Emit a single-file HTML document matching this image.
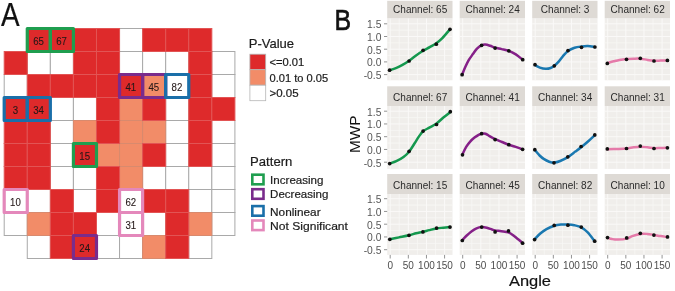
<!DOCTYPE html>
<html><head><meta charset="utf-8"><title>Figure</title>
<style>
html,body{margin:0;padding:0;background:#fff;width:675px;height:291px;overflow:hidden;}
svg{display:block;font-family:"Liberation Sans", sans-serif;filter:blur(0.35px);}
</style></head>
<body>
<svg width="675" height="291" viewBox="0 0 675 291">
<g><rect x="119.55" y="28.50" width="23.07" height="23.00" fill="#ffffff" stroke="#a9a9a9" stroke-width="1"/><rect x="27.27" y="51.50" width="23.07" height="23.00" fill="#ffffff" stroke="#a9a9a9" stroke-width="1"/><rect x="50.34" y="51.50" width="23.07" height="23.00" fill="#ffffff" stroke="#a9a9a9" stroke-width="1"/><rect x="119.55" y="51.50" width="23.07" height="23.00" fill="#ffffff" stroke="#a9a9a9" stroke-width="1"/><rect x="142.62" y="51.50" width="23.07" height="23.00" fill="#ffffff" stroke="#a9a9a9" stroke-width="1"/><rect x="165.69" y="51.50" width="23.07" height="23.00" fill="#ffffff" stroke="#a9a9a9" stroke-width="1"/><rect x="211.83" y="51.50" width="23.07" height="23.00" fill="#ffffff" stroke="#a9a9a9" stroke-width="1"/><rect x="4.20" y="74.50" width="23.07" height="23.00" fill="#ffffff" stroke="#a9a9a9" stroke-width="1"/><rect x="165.69" y="74.50" width="23.07" height="23.00" fill="#ffffff" stroke="#a9a9a9" stroke-width="1"/><rect x="211.83" y="74.50" width="23.07" height="23.00" fill="#ffffff" stroke="#a9a9a9" stroke-width="1"/><rect x="50.34" y="97.50" width="23.07" height="23.00" fill="#ffffff" stroke="#a9a9a9" stroke-width="1"/><rect x="73.41" y="97.50" width="23.07" height="23.00" fill="#ffffff" stroke="#a9a9a9" stroke-width="1"/><rect x="165.69" y="97.50" width="23.07" height="23.00" fill="#ffffff" stroke="#a9a9a9" stroke-width="1"/><rect x="50.34" y="120.50" width="23.07" height="23.00" fill="#ffffff" stroke="#a9a9a9" stroke-width="1"/><rect x="165.69" y="120.50" width="23.07" height="23.00" fill="#ffffff" stroke="#a9a9a9" stroke-width="1"/><rect x="211.83" y="120.50" width="23.07" height="23.00" fill="#ffffff" stroke="#a9a9a9" stroke-width="1"/><rect x="50.34" y="143.50" width="23.07" height="23.00" fill="#ffffff" stroke="#a9a9a9" stroke-width="1"/><rect x="165.69" y="143.50" width="23.07" height="23.00" fill="#ffffff" stroke="#a9a9a9" stroke-width="1"/><rect x="211.83" y="143.50" width="23.07" height="23.00" fill="#ffffff" stroke="#a9a9a9" stroke-width="1"/><rect x="50.34" y="166.50" width="23.07" height="23.00" fill="#ffffff" stroke="#a9a9a9" stroke-width="1"/><rect x="73.41" y="166.50" width="23.07" height="23.00" fill="#ffffff" stroke="#a9a9a9" stroke-width="1"/><rect x="142.62" y="166.50" width="23.07" height="23.00" fill="#ffffff" stroke="#a9a9a9" stroke-width="1"/><rect x="165.69" y="166.50" width="23.07" height="23.00" fill="#ffffff" stroke="#a9a9a9" stroke-width="1"/><rect x="188.76" y="166.50" width="23.07" height="23.00" fill="#ffffff" stroke="#a9a9a9" stroke-width="1"/><rect x="211.83" y="166.50" width="23.07" height="23.00" fill="#ffffff" stroke="#a9a9a9" stroke-width="1"/><rect x="4.20" y="189.50" width="23.07" height="23.00" fill="#ffffff" stroke="#a9a9a9" stroke-width="1"/><rect x="27.27" y="189.50" width="23.07" height="23.00" fill="#ffffff" stroke="#a9a9a9" stroke-width="1"/><rect x="73.41" y="189.50" width="23.07" height="23.00" fill="#ffffff" stroke="#a9a9a9" stroke-width="1"/><rect x="119.55" y="189.50" width="23.07" height="23.00" fill="#ffffff" stroke="#a9a9a9" stroke-width="1"/><rect x="188.76" y="189.50" width="23.07" height="23.00" fill="#ffffff" stroke="#a9a9a9" stroke-width="1"/><rect x="211.83" y="189.50" width="23.07" height="23.00" fill="#ffffff" stroke="#a9a9a9" stroke-width="1"/><rect x="4.20" y="212.50" width="23.07" height="23.00" fill="#ffffff" stroke="#a9a9a9" stroke-width="1"/><rect x="96.48" y="212.50" width="23.07" height="23.00" fill="#ffffff" stroke="#a9a9a9" stroke-width="1"/><rect x="119.55" y="212.50" width="23.07" height="23.00" fill="#ffffff" stroke="#a9a9a9" stroke-width="1"/><rect x="142.62" y="212.50" width="23.07" height="23.00" fill="#ffffff" stroke="#a9a9a9" stroke-width="1"/><rect x="211.83" y="212.50" width="23.07" height="23.00" fill="#ffffff" stroke="#a9a9a9" stroke-width="1"/><rect x="27.27" y="235.50" width="23.07" height="23.00" fill="#ffffff" stroke="#a9a9a9" stroke-width="1"/><rect x="96.48" y="235.50" width="23.07" height="23.00" fill="#ffffff" stroke="#a9a9a9" stroke-width="1"/><rect x="119.55" y="235.50" width="23.07" height="23.00" fill="#ffffff" stroke="#a9a9a9" stroke-width="1"/><rect x="188.76" y="235.50" width="23.07" height="23.00" fill="#ffffff" stroke="#a9a9a9" stroke-width="1"/><rect x="142.62" y="74.50" width="23.07" height="23.00" fill="#f28c68" stroke="#d88a6e" stroke-width="1"/><rect x="119.55" y="97.50" width="23.07" height="23.00" fill="#f28c68" stroke="#d88a6e" stroke-width="1"/><rect x="73.41" y="120.50" width="23.07" height="23.00" fill="#f28c68" stroke="#d88a6e" stroke-width="1"/><rect x="119.55" y="120.50" width="23.07" height="23.00" fill="#f28c68" stroke="#d88a6e" stroke-width="1"/><rect x="142.62" y="120.50" width="23.07" height="23.00" fill="#f28c68" stroke="#d88a6e" stroke-width="1"/><rect x="96.48" y="143.50" width="23.07" height="23.00" fill="#f28c68" stroke="#d88a6e" stroke-width="1"/><rect x="119.55" y="143.50" width="23.07" height="23.00" fill="#f28c68" stroke="#d88a6e" stroke-width="1"/><rect x="119.55" y="166.50" width="23.07" height="23.00" fill="#f28c68" stroke="#d88a6e" stroke-width="1"/><rect x="27.27" y="212.50" width="23.07" height="23.00" fill="#f28c68" stroke="#d88a6e" stroke-width="1"/><rect x="188.76" y="212.50" width="23.07" height="23.00" fill="#f28c68" stroke="#d88a6e" stroke-width="1"/><rect x="142.62" y="235.50" width="23.07" height="23.00" fill="#f28c68" stroke="#d88a6e" stroke-width="1"/><rect x="27.27" y="28.50" width="23.07" height="23.00" fill="#de2a2b" stroke="#e25454" stroke-width="1"/><rect x="50.34" y="28.50" width="23.07" height="23.00" fill="#de2a2b" stroke="#e25454" stroke-width="1"/><rect x="73.41" y="28.50" width="23.07" height="23.00" fill="#de2a2b" stroke="#e25454" stroke-width="1"/><rect x="96.48" y="28.50" width="23.07" height="23.00" fill="#de2a2b" stroke="#e25454" stroke-width="1"/><rect x="142.62" y="28.50" width="23.07" height="23.00" fill="#de2a2b" stroke="#e25454" stroke-width="1"/><rect x="165.69" y="28.50" width="23.07" height="23.00" fill="#de2a2b" stroke="#e25454" stroke-width="1"/><rect x="188.76" y="28.50" width="23.07" height="23.00" fill="#de2a2b" stroke="#e25454" stroke-width="1"/><rect x="4.20" y="51.50" width="23.07" height="23.00" fill="#de2a2b" stroke="#e25454" stroke-width="1"/><rect x="73.41" y="51.50" width="23.07" height="23.00" fill="#de2a2b" stroke="#e25454" stroke-width="1"/><rect x="96.48" y="51.50" width="23.07" height="23.00" fill="#de2a2b" stroke="#e25454" stroke-width="1"/><rect x="188.76" y="51.50" width="23.07" height="23.00" fill="#de2a2b" stroke="#e25454" stroke-width="1"/><rect x="27.27" y="74.50" width="23.07" height="23.00" fill="#de2a2b" stroke="#e25454" stroke-width="1"/><rect x="50.34" y="74.50" width="23.07" height="23.00" fill="#de2a2b" stroke="#e25454" stroke-width="1"/><rect x="73.41" y="74.50" width="23.07" height="23.00" fill="#de2a2b" stroke="#e25454" stroke-width="1"/><rect x="96.48" y="74.50" width="23.07" height="23.00" fill="#de2a2b" stroke="#e25454" stroke-width="1"/><rect x="119.55" y="74.50" width="23.07" height="23.00" fill="#de2a2b" stroke="#e25454" stroke-width="1"/><rect x="188.76" y="74.50" width="23.07" height="23.00" fill="#de2a2b" stroke="#e25454" stroke-width="1"/><rect x="4.20" y="97.50" width="23.07" height="23.00" fill="#de2a2b" stroke="#e25454" stroke-width="1"/><rect x="27.27" y="97.50" width="23.07" height="23.00" fill="#de2a2b" stroke="#e25454" stroke-width="1"/><rect x="96.48" y="97.50" width="23.07" height="23.00" fill="#de2a2b" stroke="#e25454" stroke-width="1"/><rect x="142.62" y="97.50" width="23.07" height="23.00" fill="#de2a2b" stroke="#e25454" stroke-width="1"/><rect x="188.76" y="97.50" width="23.07" height="23.00" fill="#de2a2b" stroke="#e25454" stroke-width="1"/><rect x="211.83" y="97.50" width="23.07" height="23.00" fill="#de2a2b" stroke="#e25454" stroke-width="1"/><rect x="4.20" y="120.50" width="23.07" height="23.00" fill="#de2a2b" stroke="#e25454" stroke-width="1"/><rect x="27.27" y="120.50" width="23.07" height="23.00" fill="#de2a2b" stroke="#e25454" stroke-width="1"/><rect x="96.48" y="120.50" width="23.07" height="23.00" fill="#de2a2b" stroke="#e25454" stroke-width="1"/><rect x="188.76" y="120.50" width="23.07" height="23.00" fill="#de2a2b" stroke="#e25454" stroke-width="1"/><rect x="4.20" y="143.50" width="23.07" height="23.00" fill="#de2a2b" stroke="#e25454" stroke-width="1"/><rect x="27.27" y="143.50" width="23.07" height="23.00" fill="#de2a2b" stroke="#e25454" stroke-width="1"/><rect x="73.41" y="143.50" width="23.07" height="23.00" fill="#de2a2b" stroke="#e25454" stroke-width="1"/><rect x="142.62" y="143.50" width="23.07" height="23.00" fill="#de2a2b" stroke="#e25454" stroke-width="1"/><rect x="188.76" y="143.50" width="23.07" height="23.00" fill="#de2a2b" stroke="#e25454" stroke-width="1"/><rect x="4.20" y="166.50" width="23.07" height="23.00" fill="#de2a2b" stroke="#e25454" stroke-width="1"/><rect x="27.27" y="166.50" width="23.07" height="23.00" fill="#de2a2b" stroke="#e25454" stroke-width="1"/><rect x="96.48" y="166.50" width="23.07" height="23.00" fill="#de2a2b" stroke="#e25454" stroke-width="1"/><rect x="50.34" y="189.50" width="23.07" height="23.00" fill="#de2a2b" stroke="#e25454" stroke-width="1"/><rect x="96.48" y="189.50" width="23.07" height="23.00" fill="#de2a2b" stroke="#e25454" stroke-width="1"/><rect x="142.62" y="189.50" width="23.07" height="23.00" fill="#de2a2b" stroke="#e25454" stroke-width="1"/><rect x="165.69" y="189.50" width="23.07" height="23.00" fill="#de2a2b" stroke="#e25454" stroke-width="1"/><rect x="50.34" y="212.50" width="23.07" height="23.00" fill="#de2a2b" stroke="#e25454" stroke-width="1"/><rect x="73.41" y="212.50" width="23.07" height="23.00" fill="#de2a2b" stroke="#e25454" stroke-width="1"/><rect x="165.69" y="212.50" width="23.07" height="23.00" fill="#de2a2b" stroke="#e25454" stroke-width="1"/><rect x="50.34" y="235.50" width="23.07" height="23.00" fill="#de2a2b" stroke="#e25454" stroke-width="1"/><rect x="73.41" y="235.50" width="23.07" height="23.00" fill="#de2a2b" stroke="#e25454" stroke-width="1"/><rect x="165.69" y="235.50" width="23.07" height="23.00" fill="#de2a2b" stroke="#e25454" stroke-width="1"/></g>
<g><rect x="27.27" y="28.50" width="23.07" height="23.00" fill="none" stroke="#1f9e4f" stroke-width="3.2" stroke-linejoin="round"/><rect x="50.34" y="28.50" width="23.07" height="23.00" fill="none" stroke="#1f9e4f" stroke-width="3.2" stroke-linejoin="round"/><rect x="119.55" y="74.50" width="23.07" height="23.00" fill="none" stroke="#7a2c8c" stroke-width="3.2" stroke-linejoin="round"/><rect x="142.62" y="74.50" width="23.07" height="23.00" fill="none" stroke="#7a2c8c" stroke-width="3.2" stroke-linejoin="round"/><rect x="165.69" y="74.50" width="23.07" height="23.00" fill="none" stroke="#1a6fa9" stroke-width="3.2" stroke-linejoin="round"/><rect x="4.20" y="97.50" width="23.07" height="23.00" fill="none" stroke="#1a6fa9" stroke-width="3.2" stroke-linejoin="round"/><rect x="27.27" y="97.50" width="23.07" height="23.00" fill="none" stroke="#1a6fa9" stroke-width="3.2" stroke-linejoin="round"/><rect x="73.41" y="143.50" width="23.07" height="23.00" fill="none" stroke="#1f9e4f" stroke-width="3.2" stroke-linejoin="round"/><rect x="4.20" y="189.50" width="23.07" height="23.00" fill="none" stroke="#e488bb" stroke-width="3.2" stroke-linejoin="round"/><rect x="119.55" y="189.50" width="23.07" height="23.00" fill="none" stroke="#e488bb" stroke-width="3.2" stroke-linejoin="round"/><rect x="119.55" y="212.50" width="23.07" height="23.00" fill="none" stroke="#e488bb" stroke-width="3.2" stroke-linejoin="round"/><rect x="73.41" y="235.50" width="23.07" height="23.00" fill="none" stroke="#7a2c8c" stroke-width="3.2" stroke-linejoin="round"/></g>
<g><text transform="translate(38.51 44.80) scale(0.92 1)" text-anchor="middle" font-size="10.5" fill="#241818" stroke="#241818" stroke-width="0.1">65</text><text transform="translate(61.58 44.80) scale(0.92 1)" text-anchor="middle" font-size="10.5" fill="#241818" stroke="#241818" stroke-width="0.1">67</text><text transform="translate(130.78 90.80) scale(0.92 1)" text-anchor="middle" font-size="10.5" fill="#241818" stroke="#241818" stroke-width="0.1">41</text><text transform="translate(153.85 90.80) scale(0.92 1)" text-anchor="middle" font-size="10.5" fill="#241818" stroke="#241818" stroke-width="0.1">45</text><text transform="translate(176.92 90.80) scale(0.92 1)" text-anchor="middle" font-size="10.5" fill="#241818" stroke="#241818" stroke-width="0.1">82</text><text transform="translate(15.43 113.80) scale(0.92 1)" text-anchor="middle" font-size="10.5" fill="#241818" stroke="#241818" stroke-width="0.1">3</text><text transform="translate(38.51 113.80) scale(0.92 1)" text-anchor="middle" font-size="10.5" fill="#241818" stroke="#241818" stroke-width="0.1">34</text><text transform="translate(84.65 159.80) scale(0.92 1)" text-anchor="middle" font-size="10.5" fill="#241818" stroke="#241818" stroke-width="0.1">15</text><text transform="translate(15.43 205.80) scale(0.92 1)" text-anchor="middle" font-size="10.5" fill="#241818" stroke="#241818" stroke-width="0.1">10</text><text transform="translate(130.78 205.80) scale(0.92 1)" text-anchor="middle" font-size="10.5" fill="#241818" stroke="#241818" stroke-width="0.1">62</text><text transform="translate(130.78 228.80) scale(0.92 1)" text-anchor="middle" font-size="10.5" fill="#241818" stroke="#241818" stroke-width="0.1">31</text><text transform="translate(84.65 251.80) scale(0.92 1)" text-anchor="middle" font-size="10.5" fill="#241818" stroke="#241818" stroke-width="0.1">24</text></g>
<text transform="translate(1.0 25.6) scale(0.86 1)" font-size="32.46" fill="#111" stroke="#1c1c1c" stroke-width="0.2">A</text>
<text transform="translate(248.7 48.4) scale(1.02 1)" font-size="12.8" fill="#1c1c1c" stroke="#1c1c1c" stroke-width="0.2">P-Value</text>
<rect x="249.9" y="54.2" width="15.8" height="15.5" fill="#de2a2b" stroke="#b5b5b5" stroke-width="0.8"/>
<rect x="249.9" y="69.7" width="15.8" height="15.5" fill="#f28c68" stroke="#b5b5b5" stroke-width="0.8"/>
<rect x="249.9" y="85.2" width="15.8" height="15.5" fill="#ffffff" stroke="#b5b5b5" stroke-width="0.8"/>
<text transform="translate(269.5 66.1) scale(1.074 1)" font-size="10.4" fill="#1c1c1c" stroke="#1c1c1c" stroke-width="0.2">&lt;=0.01</text>
<text transform="translate(269.5 81.8) scale(1.09 1)" font-size="10.2" fill="#1c1c1c" stroke="#1c1c1c" stroke-width="0.2">0.01 to 0.05</text>
<text transform="translate(269.5 96.9) scale(1.107 1)" font-size="10.4" fill="#1c1c1c" stroke="#1c1c1c" stroke-width="0.2">&gt;0.05</text>
<text transform="translate(250.1 166) scale(1.04 1)" font-size="12.6" fill="#1c1c1c" stroke="#1c1c1c" stroke-width="0.2">Pattern</text>
<rect x="252.3" y="174.7" width="11.2" height="9.6" fill="#fff" stroke="#1f9e4f" stroke-width="2.6"/>
<text transform="translate(270.1 184.2) scale(1.03 1)" font-size="11.25" fill="#1c1c1c" stroke="#1c1c1c" stroke-width="0.2">Increasing</text>
<rect x="252.3" y="189.2" width="11.2" height="9.6" fill="#fff" stroke="#7a2c8c" stroke-width="2.6"/>
<text transform="translate(270.1 198.2) scale(1.024 1)" font-size="11.25" fill="#1c1c1c" stroke="#1c1c1c" stroke-width="0.2">Decreasing</text>
<rect x="252.3" y="206.1" width="11.2" height="9.6" fill="#fff" stroke="#1a6fa9" stroke-width="2.6"/>
<text transform="translate(270.1 216.3) scale(1.05 1)" font-size="11.25" fill="#1c1c1c" stroke="#1c1c1c" stroke-width="0.2">Nonlinear</text>
<rect x="252.3" y="220.5" width="11.2" height="9.6" fill="#fff" stroke="#e488bb" stroke-width="2.6"/>
<text transform="translate(270.1 230.0) scale(1.075 1)" font-size="11.25" fill="#1c1c1c" stroke="#1c1c1c" stroke-width="0.2">Not Significant</text>
<text transform="translate(334.6 30.1) scale(0.82 1)" font-size="30.4" fill="#111" stroke="#111" stroke-width="0.7">B</text>
<rect x="387.2" y="0.8" width="65.3" height="17.70" fill="#dedad5"/>
<text transform="translate(420.15 13.40) scale(1.005 1)" text-anchor="middle" font-size="10.0" fill="#2a2a2a">Channel: 65</text>
<rect x="387.2" y="18.5" width="65.3" height="61.80" fill="#f0eeeb"/>
<line x1="387.2" x2="452.5" y1="68.25" y2="68.25" stroke="#f8f7f5" stroke-width="0.8"/><line x1="387.2" x2="452.5" y1="55.55" y2="55.55" stroke="#f8f7f5" stroke-width="0.8"/><line x1="387.2" x2="452.5" y1="42.85" y2="42.85" stroke="#f8f7f5" stroke-width="0.8"/><line x1="387.2" x2="452.5" y1="30.15" y2="30.15" stroke="#f8f7f5" stroke-width="0.8"/><line x1="399.26" x2="399.26" y1="18.5" y2="80.3" stroke="#f8f7f5" stroke-width="0.8"/><line x1="417.39" x2="417.39" y1="18.5" y2="80.3" stroke="#f8f7f5" stroke-width="0.8"/><line x1="435.52" x2="435.52" y1="18.5" y2="80.3" stroke="#f8f7f5" stroke-width="0.8"/><line x1="387.2" x2="452.5" y1="74.60" y2="74.60" stroke="#faf9f8" stroke-width="1"/><line x1="387.2" x2="452.5" y1="61.90" y2="61.90" stroke="#faf9f8" stroke-width="1"/><line x1="387.2" x2="452.5" y1="49.20" y2="49.20" stroke="#faf9f8" stroke-width="1"/><line x1="387.2" x2="452.5" y1="36.50" y2="36.50" stroke="#faf9f8" stroke-width="1"/><line x1="387.2" x2="452.5" y1="23.80" y2="23.80" stroke="#faf9f8" stroke-width="1"/><line x1="390.20" x2="390.20" y1="18.5" y2="80.3" stroke="#faf9f8" stroke-width="1"/><line x1="408.33" x2="408.33" y1="18.5" y2="80.3" stroke="#faf9f8" stroke-width="1"/><line x1="426.46" x2="426.46" y1="18.5" y2="80.3" stroke="#faf9f8" stroke-width="1"/><line x1="444.59" x2="444.59" y1="18.5" y2="80.3" stroke="#faf9f8" stroke-width="1"/>
<rect x="459.7" y="0.8" width="65.3" height="17.70" fill="#dedad5"/>
<text transform="translate(492.65 13.40) scale(1.005 1)" text-anchor="middle" font-size="10.0" fill="#2a2a2a">Channel: 24</text>
<rect x="459.7" y="18.5" width="65.3" height="61.80" fill="#f0eeeb"/>
<line x1="459.7" x2="525.0" y1="68.25" y2="68.25" stroke="#f8f7f5" stroke-width="0.8"/><line x1="459.7" x2="525.0" y1="55.55" y2="55.55" stroke="#f8f7f5" stroke-width="0.8"/><line x1="459.7" x2="525.0" y1="42.85" y2="42.85" stroke="#f8f7f5" stroke-width="0.8"/><line x1="459.7" x2="525.0" y1="30.15" y2="30.15" stroke="#f8f7f5" stroke-width="0.8"/><line x1="471.76" x2="471.76" y1="18.5" y2="80.3" stroke="#f8f7f5" stroke-width="0.8"/><line x1="489.89" x2="489.89" y1="18.5" y2="80.3" stroke="#f8f7f5" stroke-width="0.8"/><line x1="508.02" x2="508.02" y1="18.5" y2="80.3" stroke="#f8f7f5" stroke-width="0.8"/><line x1="459.7" x2="525.0" y1="74.60" y2="74.60" stroke="#faf9f8" stroke-width="1"/><line x1="459.7" x2="525.0" y1="61.90" y2="61.90" stroke="#faf9f8" stroke-width="1"/><line x1="459.7" x2="525.0" y1="49.20" y2="49.20" stroke="#faf9f8" stroke-width="1"/><line x1="459.7" x2="525.0" y1="36.50" y2="36.50" stroke="#faf9f8" stroke-width="1"/><line x1="459.7" x2="525.0" y1="23.80" y2="23.80" stroke="#faf9f8" stroke-width="1"/><line x1="462.70" x2="462.70" y1="18.5" y2="80.3" stroke="#faf9f8" stroke-width="1"/><line x1="480.83" x2="480.83" y1="18.5" y2="80.3" stroke="#faf9f8" stroke-width="1"/><line x1="498.96" x2="498.96" y1="18.5" y2="80.3" stroke="#faf9f8" stroke-width="1"/><line x1="517.09" x2="517.09" y1="18.5" y2="80.3" stroke="#faf9f8" stroke-width="1"/>
<rect x="532.2" y="0.8" width="65.3" height="17.70" fill="#dedad5"/>
<text transform="translate(565.15 13.40) scale(1.005 1)" text-anchor="middle" font-size="10.0" fill="#2a2a2a">Channel: 3</text>
<rect x="532.2" y="18.5" width="65.3" height="61.80" fill="#f0eeeb"/>
<line x1="532.2" x2="597.5" y1="68.25" y2="68.25" stroke="#f8f7f5" stroke-width="0.8"/><line x1="532.2" x2="597.5" y1="55.55" y2="55.55" stroke="#f8f7f5" stroke-width="0.8"/><line x1="532.2" x2="597.5" y1="42.85" y2="42.85" stroke="#f8f7f5" stroke-width="0.8"/><line x1="532.2" x2="597.5" y1="30.15" y2="30.15" stroke="#f8f7f5" stroke-width="0.8"/><line x1="544.27" x2="544.27" y1="18.5" y2="80.3" stroke="#f8f7f5" stroke-width="0.8"/><line x1="562.40" x2="562.40" y1="18.5" y2="80.3" stroke="#f8f7f5" stroke-width="0.8"/><line x1="580.53" x2="580.53" y1="18.5" y2="80.3" stroke="#f8f7f5" stroke-width="0.8"/><line x1="532.2" x2="597.5" y1="74.60" y2="74.60" stroke="#faf9f8" stroke-width="1"/><line x1="532.2" x2="597.5" y1="61.90" y2="61.90" stroke="#faf9f8" stroke-width="1"/><line x1="532.2" x2="597.5" y1="49.20" y2="49.20" stroke="#faf9f8" stroke-width="1"/><line x1="532.2" x2="597.5" y1="36.50" y2="36.50" stroke="#faf9f8" stroke-width="1"/><line x1="532.2" x2="597.5" y1="23.80" y2="23.80" stroke="#faf9f8" stroke-width="1"/><line x1="535.20" x2="535.20" y1="18.5" y2="80.3" stroke="#faf9f8" stroke-width="1"/><line x1="553.33" x2="553.33" y1="18.5" y2="80.3" stroke="#faf9f8" stroke-width="1"/><line x1="571.46" x2="571.46" y1="18.5" y2="80.3" stroke="#faf9f8" stroke-width="1"/><line x1="589.59" x2="589.59" y1="18.5" y2="80.3" stroke="#faf9f8" stroke-width="1"/>
<rect x="604.7" y="0.8" width="65.3" height="17.70" fill="#dedad5"/>
<text transform="translate(637.65 13.40) scale(1.005 1)" text-anchor="middle" font-size="10.0" fill="#2a2a2a">Channel: 62</text>
<rect x="604.7" y="18.5" width="65.3" height="61.80" fill="#f0eeeb"/>
<line x1="604.7" x2="670.0" y1="68.25" y2="68.25" stroke="#f8f7f5" stroke-width="0.8"/><line x1="604.7" x2="670.0" y1="55.55" y2="55.55" stroke="#f8f7f5" stroke-width="0.8"/><line x1="604.7" x2="670.0" y1="42.85" y2="42.85" stroke="#f8f7f5" stroke-width="0.8"/><line x1="604.7" x2="670.0" y1="30.15" y2="30.15" stroke="#f8f7f5" stroke-width="0.8"/><line x1="616.77" x2="616.77" y1="18.5" y2="80.3" stroke="#f8f7f5" stroke-width="0.8"/><line x1="634.90" x2="634.90" y1="18.5" y2="80.3" stroke="#f8f7f5" stroke-width="0.8"/><line x1="653.03" x2="653.03" y1="18.5" y2="80.3" stroke="#f8f7f5" stroke-width="0.8"/><line x1="604.7" x2="670.0" y1="74.60" y2="74.60" stroke="#faf9f8" stroke-width="1"/><line x1="604.7" x2="670.0" y1="61.90" y2="61.90" stroke="#faf9f8" stroke-width="1"/><line x1="604.7" x2="670.0" y1="49.20" y2="49.20" stroke="#faf9f8" stroke-width="1"/><line x1="604.7" x2="670.0" y1="36.50" y2="36.50" stroke="#faf9f8" stroke-width="1"/><line x1="604.7" x2="670.0" y1="23.80" y2="23.80" stroke="#faf9f8" stroke-width="1"/><line x1="607.70" x2="607.70" y1="18.5" y2="80.3" stroke="#faf9f8" stroke-width="1"/><line x1="625.83" x2="625.83" y1="18.5" y2="80.3" stroke="#faf9f8" stroke-width="1"/><line x1="643.96" x2="643.96" y1="18.5" y2="80.3" stroke="#faf9f8" stroke-width="1"/><line x1="662.09" x2="662.09" y1="18.5" y2="80.3" stroke="#faf9f8" stroke-width="1"/>
<text x="381.4" y="28.10" text-anchor="end" font-size="10.3" fill="#555">1.5</text>
<line x1="384.0" x2="387.2" y1="23.80" y2="23.80" stroke="#888" stroke-width="0.9"/>
<text x="381.4" y="40.80" text-anchor="end" font-size="10.3" fill="#555">1.0</text>
<line x1="384.0" x2="387.2" y1="36.50" y2="36.50" stroke="#888" stroke-width="0.9"/>
<text x="381.4" y="53.50" text-anchor="end" font-size="10.3" fill="#555">0.5</text>
<line x1="384.0" x2="387.2" y1="49.20" y2="49.20" stroke="#888" stroke-width="0.9"/>
<text x="381.4" y="66.20" text-anchor="end" font-size="10.3" fill="#555">0.0</text>
<line x1="384.0" x2="387.2" y1="61.90" y2="61.90" stroke="#888" stroke-width="0.9"/>
<text x="381.4" y="78.90" text-anchor="end" font-size="10.3" fill="#555">-0.5</text>
<line x1="384.0" x2="387.2" y1="74.60" y2="74.60" stroke="#888" stroke-width="0.9"/>
<rect x="387.2" y="86.3" width="65.3" height="19.70" fill="#dedad5"/>
<text transform="translate(420.15 100.90) scale(1.005 1)" text-anchor="middle" font-size="10.0" fill="#2a2a2a">Channel: 67</text>
<rect x="387.2" y="106.0" width="65.3" height="62.90" fill="#f0eeeb"/>
<line x1="387.2" x2="452.5" y1="155.82" y2="155.82" stroke="#f8f7f5" stroke-width="0.8"/><line x1="387.2" x2="452.5" y1="143.07" y2="143.07" stroke="#f8f7f5" stroke-width="0.8"/><line x1="387.2" x2="452.5" y1="130.32" y2="130.32" stroke="#f8f7f5" stroke-width="0.8"/><line x1="387.2" x2="452.5" y1="117.58" y2="117.58" stroke="#f8f7f5" stroke-width="0.8"/><line x1="399.26" x2="399.26" y1="106.0" y2="168.9" stroke="#f8f7f5" stroke-width="0.8"/><line x1="417.39" x2="417.39" y1="106.0" y2="168.9" stroke="#f8f7f5" stroke-width="0.8"/><line x1="435.52" x2="435.52" y1="106.0" y2="168.9" stroke="#f8f7f5" stroke-width="0.8"/><line x1="387.2" x2="452.5" y1="162.20" y2="162.20" stroke="#faf9f8" stroke-width="1"/><line x1="387.2" x2="452.5" y1="149.45" y2="149.45" stroke="#faf9f8" stroke-width="1"/><line x1="387.2" x2="452.5" y1="136.70" y2="136.70" stroke="#faf9f8" stroke-width="1"/><line x1="387.2" x2="452.5" y1="123.95" y2="123.95" stroke="#faf9f8" stroke-width="1"/><line x1="387.2" x2="452.5" y1="111.20" y2="111.20" stroke="#faf9f8" stroke-width="1"/><line x1="390.20" x2="390.20" y1="106.0" y2="168.9" stroke="#faf9f8" stroke-width="1"/><line x1="408.33" x2="408.33" y1="106.0" y2="168.9" stroke="#faf9f8" stroke-width="1"/><line x1="426.46" x2="426.46" y1="106.0" y2="168.9" stroke="#faf9f8" stroke-width="1"/><line x1="444.59" x2="444.59" y1="106.0" y2="168.9" stroke="#faf9f8" stroke-width="1"/>
<rect x="459.7" y="86.3" width="65.3" height="19.70" fill="#dedad5"/>
<text transform="translate(492.65 100.90) scale(1.005 1)" text-anchor="middle" font-size="10.0" fill="#2a2a2a">Channel: 41</text>
<rect x="459.7" y="106.0" width="65.3" height="62.90" fill="#f0eeeb"/>
<line x1="459.7" x2="525.0" y1="155.82" y2="155.82" stroke="#f8f7f5" stroke-width="0.8"/><line x1="459.7" x2="525.0" y1="143.07" y2="143.07" stroke="#f8f7f5" stroke-width="0.8"/><line x1="459.7" x2="525.0" y1="130.32" y2="130.32" stroke="#f8f7f5" stroke-width="0.8"/><line x1="459.7" x2="525.0" y1="117.58" y2="117.58" stroke="#f8f7f5" stroke-width="0.8"/><line x1="471.76" x2="471.76" y1="106.0" y2="168.9" stroke="#f8f7f5" stroke-width="0.8"/><line x1="489.89" x2="489.89" y1="106.0" y2="168.9" stroke="#f8f7f5" stroke-width="0.8"/><line x1="508.02" x2="508.02" y1="106.0" y2="168.9" stroke="#f8f7f5" stroke-width="0.8"/><line x1="459.7" x2="525.0" y1="162.20" y2="162.20" stroke="#faf9f8" stroke-width="1"/><line x1="459.7" x2="525.0" y1="149.45" y2="149.45" stroke="#faf9f8" stroke-width="1"/><line x1="459.7" x2="525.0" y1="136.70" y2="136.70" stroke="#faf9f8" stroke-width="1"/><line x1="459.7" x2="525.0" y1="123.95" y2="123.95" stroke="#faf9f8" stroke-width="1"/><line x1="459.7" x2="525.0" y1="111.20" y2="111.20" stroke="#faf9f8" stroke-width="1"/><line x1="462.70" x2="462.70" y1="106.0" y2="168.9" stroke="#faf9f8" stroke-width="1"/><line x1="480.83" x2="480.83" y1="106.0" y2="168.9" stroke="#faf9f8" stroke-width="1"/><line x1="498.96" x2="498.96" y1="106.0" y2="168.9" stroke="#faf9f8" stroke-width="1"/><line x1="517.09" x2="517.09" y1="106.0" y2="168.9" stroke="#faf9f8" stroke-width="1"/>
<rect x="532.2" y="86.3" width="65.3" height="19.70" fill="#dedad5"/>
<text transform="translate(565.15 100.90) scale(1.005 1)" text-anchor="middle" font-size="10.0" fill="#2a2a2a">Channel: 34</text>
<rect x="532.2" y="106.0" width="65.3" height="62.90" fill="#f0eeeb"/>
<line x1="532.2" x2="597.5" y1="155.82" y2="155.82" stroke="#f8f7f5" stroke-width="0.8"/><line x1="532.2" x2="597.5" y1="143.07" y2="143.07" stroke="#f8f7f5" stroke-width="0.8"/><line x1="532.2" x2="597.5" y1="130.32" y2="130.32" stroke="#f8f7f5" stroke-width="0.8"/><line x1="532.2" x2="597.5" y1="117.58" y2="117.58" stroke="#f8f7f5" stroke-width="0.8"/><line x1="544.27" x2="544.27" y1="106.0" y2="168.9" stroke="#f8f7f5" stroke-width="0.8"/><line x1="562.40" x2="562.40" y1="106.0" y2="168.9" stroke="#f8f7f5" stroke-width="0.8"/><line x1="580.53" x2="580.53" y1="106.0" y2="168.9" stroke="#f8f7f5" stroke-width="0.8"/><line x1="532.2" x2="597.5" y1="162.20" y2="162.20" stroke="#faf9f8" stroke-width="1"/><line x1="532.2" x2="597.5" y1="149.45" y2="149.45" stroke="#faf9f8" stroke-width="1"/><line x1="532.2" x2="597.5" y1="136.70" y2="136.70" stroke="#faf9f8" stroke-width="1"/><line x1="532.2" x2="597.5" y1="123.95" y2="123.95" stroke="#faf9f8" stroke-width="1"/><line x1="532.2" x2="597.5" y1="111.20" y2="111.20" stroke="#faf9f8" stroke-width="1"/><line x1="535.20" x2="535.20" y1="106.0" y2="168.9" stroke="#faf9f8" stroke-width="1"/><line x1="553.33" x2="553.33" y1="106.0" y2="168.9" stroke="#faf9f8" stroke-width="1"/><line x1="571.46" x2="571.46" y1="106.0" y2="168.9" stroke="#faf9f8" stroke-width="1"/><line x1="589.59" x2="589.59" y1="106.0" y2="168.9" stroke="#faf9f8" stroke-width="1"/>
<rect x="604.7" y="86.3" width="65.3" height="19.70" fill="#dedad5"/>
<text transform="translate(637.65 100.90) scale(1.005 1)" text-anchor="middle" font-size="10.0" fill="#2a2a2a">Channel: 31</text>
<rect x="604.7" y="106.0" width="65.3" height="62.90" fill="#f0eeeb"/>
<line x1="604.7" x2="670.0" y1="155.82" y2="155.82" stroke="#f8f7f5" stroke-width="0.8"/><line x1="604.7" x2="670.0" y1="143.07" y2="143.07" stroke="#f8f7f5" stroke-width="0.8"/><line x1="604.7" x2="670.0" y1="130.32" y2="130.32" stroke="#f8f7f5" stroke-width="0.8"/><line x1="604.7" x2="670.0" y1="117.58" y2="117.58" stroke="#f8f7f5" stroke-width="0.8"/><line x1="616.77" x2="616.77" y1="106.0" y2="168.9" stroke="#f8f7f5" stroke-width="0.8"/><line x1="634.90" x2="634.90" y1="106.0" y2="168.9" stroke="#f8f7f5" stroke-width="0.8"/><line x1="653.03" x2="653.03" y1="106.0" y2="168.9" stroke="#f8f7f5" stroke-width="0.8"/><line x1="604.7" x2="670.0" y1="162.20" y2="162.20" stroke="#faf9f8" stroke-width="1"/><line x1="604.7" x2="670.0" y1="149.45" y2="149.45" stroke="#faf9f8" stroke-width="1"/><line x1="604.7" x2="670.0" y1="136.70" y2="136.70" stroke="#faf9f8" stroke-width="1"/><line x1="604.7" x2="670.0" y1="123.95" y2="123.95" stroke="#faf9f8" stroke-width="1"/><line x1="604.7" x2="670.0" y1="111.20" y2="111.20" stroke="#faf9f8" stroke-width="1"/><line x1="607.70" x2="607.70" y1="106.0" y2="168.9" stroke="#faf9f8" stroke-width="1"/><line x1="625.83" x2="625.83" y1="106.0" y2="168.9" stroke="#faf9f8" stroke-width="1"/><line x1="643.96" x2="643.96" y1="106.0" y2="168.9" stroke="#faf9f8" stroke-width="1"/><line x1="662.09" x2="662.09" y1="106.0" y2="168.9" stroke="#faf9f8" stroke-width="1"/>
<text x="381.4" y="115.50" text-anchor="end" font-size="10.3" fill="#555">1.5</text>
<line x1="384.0" x2="387.2" y1="111.20" y2="111.20" stroke="#888" stroke-width="0.9"/>
<text x="381.4" y="128.25" text-anchor="end" font-size="10.3" fill="#555">1.0</text>
<line x1="384.0" x2="387.2" y1="123.95" y2="123.95" stroke="#888" stroke-width="0.9"/>
<text x="381.4" y="141.00" text-anchor="end" font-size="10.3" fill="#555">0.5</text>
<line x1="384.0" x2="387.2" y1="136.70" y2="136.70" stroke="#888" stroke-width="0.9"/>
<text x="381.4" y="153.75" text-anchor="end" font-size="10.3" fill="#555">0.0</text>
<line x1="384.0" x2="387.2" y1="149.45" y2="149.45" stroke="#888" stroke-width="0.9"/>
<text x="381.4" y="166.50" text-anchor="end" font-size="10.3" fill="#555">-0.5</text>
<line x1="384.0" x2="387.2" y1="162.20" y2="162.20" stroke="#888" stroke-width="0.9"/>
<rect x="387.2" y="174.0" width="65.3" height="20.00" fill="#dedad5"/>
<text transform="translate(420.15 188.90) scale(1.005 1)" text-anchor="middle" font-size="10.0" fill="#2a2a2a">Channel: 15</text>
<rect x="387.2" y="194.0" width="65.3" height="60.90" fill="#f0eeeb"/>
<line x1="387.2" x2="452.5" y1="243.32" y2="243.32" stroke="#f8f7f5" stroke-width="0.8"/><line x1="387.2" x2="452.5" y1="230.57" y2="230.57" stroke="#f8f7f5" stroke-width="0.8"/><line x1="387.2" x2="452.5" y1="217.82" y2="217.82" stroke="#f8f7f5" stroke-width="0.8"/><line x1="387.2" x2="452.5" y1="205.07" y2="205.07" stroke="#f8f7f5" stroke-width="0.8"/><line x1="399.26" x2="399.26" y1="194.0" y2="254.9" stroke="#f8f7f5" stroke-width="0.8"/><line x1="417.39" x2="417.39" y1="194.0" y2="254.9" stroke="#f8f7f5" stroke-width="0.8"/><line x1="435.52" x2="435.52" y1="194.0" y2="254.9" stroke="#f8f7f5" stroke-width="0.8"/><line x1="387.2" x2="452.5" y1="249.70" y2="249.70" stroke="#faf9f8" stroke-width="1"/><line x1="387.2" x2="452.5" y1="236.95" y2="236.95" stroke="#faf9f8" stroke-width="1"/><line x1="387.2" x2="452.5" y1="224.20" y2="224.20" stroke="#faf9f8" stroke-width="1"/><line x1="387.2" x2="452.5" y1="211.45" y2="211.45" stroke="#faf9f8" stroke-width="1"/><line x1="387.2" x2="452.5" y1="198.70" y2="198.70" stroke="#faf9f8" stroke-width="1"/><line x1="390.20" x2="390.20" y1="194.0" y2="254.9" stroke="#faf9f8" stroke-width="1"/><line x1="408.33" x2="408.33" y1="194.0" y2="254.9" stroke="#faf9f8" stroke-width="1"/><line x1="426.46" x2="426.46" y1="194.0" y2="254.9" stroke="#faf9f8" stroke-width="1"/><line x1="444.59" x2="444.59" y1="194.0" y2="254.9" stroke="#faf9f8" stroke-width="1"/>
<rect x="459.7" y="174.0" width="65.3" height="20.00" fill="#dedad5"/>
<text transform="translate(492.65 188.90) scale(1.005 1)" text-anchor="middle" font-size="10.0" fill="#2a2a2a">Channel: 45</text>
<rect x="459.7" y="194.0" width="65.3" height="60.90" fill="#f0eeeb"/>
<line x1="459.7" x2="525.0" y1="243.32" y2="243.32" stroke="#f8f7f5" stroke-width="0.8"/><line x1="459.7" x2="525.0" y1="230.57" y2="230.57" stroke="#f8f7f5" stroke-width="0.8"/><line x1="459.7" x2="525.0" y1="217.82" y2="217.82" stroke="#f8f7f5" stroke-width="0.8"/><line x1="459.7" x2="525.0" y1="205.07" y2="205.07" stroke="#f8f7f5" stroke-width="0.8"/><line x1="471.76" x2="471.76" y1="194.0" y2="254.9" stroke="#f8f7f5" stroke-width="0.8"/><line x1="489.89" x2="489.89" y1="194.0" y2="254.9" stroke="#f8f7f5" stroke-width="0.8"/><line x1="508.02" x2="508.02" y1="194.0" y2="254.9" stroke="#f8f7f5" stroke-width="0.8"/><line x1="459.7" x2="525.0" y1="249.70" y2="249.70" stroke="#faf9f8" stroke-width="1"/><line x1="459.7" x2="525.0" y1="236.95" y2="236.95" stroke="#faf9f8" stroke-width="1"/><line x1="459.7" x2="525.0" y1="224.20" y2="224.20" stroke="#faf9f8" stroke-width="1"/><line x1="459.7" x2="525.0" y1="211.45" y2="211.45" stroke="#faf9f8" stroke-width="1"/><line x1="459.7" x2="525.0" y1="198.70" y2="198.70" stroke="#faf9f8" stroke-width="1"/><line x1="462.70" x2="462.70" y1="194.0" y2="254.9" stroke="#faf9f8" stroke-width="1"/><line x1="480.83" x2="480.83" y1="194.0" y2="254.9" stroke="#faf9f8" stroke-width="1"/><line x1="498.96" x2="498.96" y1="194.0" y2="254.9" stroke="#faf9f8" stroke-width="1"/><line x1="517.09" x2="517.09" y1="194.0" y2="254.9" stroke="#faf9f8" stroke-width="1"/>
<rect x="532.2" y="174.0" width="65.3" height="20.00" fill="#dedad5"/>
<text transform="translate(565.15 188.90) scale(1.005 1)" text-anchor="middle" font-size="10.0" fill="#2a2a2a">Channel: 82</text>
<rect x="532.2" y="194.0" width="65.3" height="60.90" fill="#f0eeeb"/>
<line x1="532.2" x2="597.5" y1="243.32" y2="243.32" stroke="#f8f7f5" stroke-width="0.8"/><line x1="532.2" x2="597.5" y1="230.57" y2="230.57" stroke="#f8f7f5" stroke-width="0.8"/><line x1="532.2" x2="597.5" y1="217.82" y2="217.82" stroke="#f8f7f5" stroke-width="0.8"/><line x1="532.2" x2="597.5" y1="205.07" y2="205.07" stroke="#f8f7f5" stroke-width="0.8"/><line x1="544.27" x2="544.27" y1="194.0" y2="254.9" stroke="#f8f7f5" stroke-width="0.8"/><line x1="562.40" x2="562.40" y1="194.0" y2="254.9" stroke="#f8f7f5" stroke-width="0.8"/><line x1="580.53" x2="580.53" y1="194.0" y2="254.9" stroke="#f8f7f5" stroke-width="0.8"/><line x1="532.2" x2="597.5" y1="249.70" y2="249.70" stroke="#faf9f8" stroke-width="1"/><line x1="532.2" x2="597.5" y1="236.95" y2="236.95" stroke="#faf9f8" stroke-width="1"/><line x1="532.2" x2="597.5" y1="224.20" y2="224.20" stroke="#faf9f8" stroke-width="1"/><line x1="532.2" x2="597.5" y1="211.45" y2="211.45" stroke="#faf9f8" stroke-width="1"/><line x1="532.2" x2="597.5" y1="198.70" y2="198.70" stroke="#faf9f8" stroke-width="1"/><line x1="535.20" x2="535.20" y1="194.0" y2="254.9" stroke="#faf9f8" stroke-width="1"/><line x1="553.33" x2="553.33" y1="194.0" y2="254.9" stroke="#faf9f8" stroke-width="1"/><line x1="571.46" x2="571.46" y1="194.0" y2="254.9" stroke="#faf9f8" stroke-width="1"/><line x1="589.59" x2="589.59" y1="194.0" y2="254.9" stroke="#faf9f8" stroke-width="1"/>
<rect x="604.7" y="174.0" width="65.3" height="20.00" fill="#dedad5"/>
<text transform="translate(637.65 188.90) scale(1.005 1)" text-anchor="middle" font-size="10.0" fill="#2a2a2a">Channel: 10</text>
<rect x="604.7" y="194.0" width="65.3" height="60.90" fill="#f0eeeb"/>
<line x1="604.7" x2="670.0" y1="243.32" y2="243.32" stroke="#f8f7f5" stroke-width="0.8"/><line x1="604.7" x2="670.0" y1="230.57" y2="230.57" stroke="#f8f7f5" stroke-width="0.8"/><line x1="604.7" x2="670.0" y1="217.82" y2="217.82" stroke="#f8f7f5" stroke-width="0.8"/><line x1="604.7" x2="670.0" y1="205.07" y2="205.07" stroke="#f8f7f5" stroke-width="0.8"/><line x1="616.77" x2="616.77" y1="194.0" y2="254.9" stroke="#f8f7f5" stroke-width="0.8"/><line x1="634.90" x2="634.90" y1="194.0" y2="254.9" stroke="#f8f7f5" stroke-width="0.8"/><line x1="653.03" x2="653.03" y1="194.0" y2="254.9" stroke="#f8f7f5" stroke-width="0.8"/><line x1="604.7" x2="670.0" y1="249.70" y2="249.70" stroke="#faf9f8" stroke-width="1"/><line x1="604.7" x2="670.0" y1="236.95" y2="236.95" stroke="#faf9f8" stroke-width="1"/><line x1="604.7" x2="670.0" y1="224.20" y2="224.20" stroke="#faf9f8" stroke-width="1"/><line x1="604.7" x2="670.0" y1="211.45" y2="211.45" stroke="#faf9f8" stroke-width="1"/><line x1="604.7" x2="670.0" y1="198.70" y2="198.70" stroke="#faf9f8" stroke-width="1"/><line x1="607.70" x2="607.70" y1="194.0" y2="254.9" stroke="#faf9f8" stroke-width="1"/><line x1="625.83" x2="625.83" y1="194.0" y2="254.9" stroke="#faf9f8" stroke-width="1"/><line x1="643.96" x2="643.96" y1="194.0" y2="254.9" stroke="#faf9f8" stroke-width="1"/><line x1="662.09" x2="662.09" y1="194.0" y2="254.9" stroke="#faf9f8" stroke-width="1"/>
<text x="381.4" y="203.00" text-anchor="end" font-size="10.3" fill="#555">1.5</text>
<line x1="384.0" x2="387.2" y1="198.70" y2="198.70" stroke="#888" stroke-width="0.9"/>
<text x="381.4" y="215.75" text-anchor="end" font-size="10.3" fill="#555">1.0</text>
<line x1="384.0" x2="387.2" y1="211.45" y2="211.45" stroke="#888" stroke-width="0.9"/>
<text x="381.4" y="228.50" text-anchor="end" font-size="10.3" fill="#555">0.5</text>
<line x1="384.0" x2="387.2" y1="224.20" y2="224.20" stroke="#888" stroke-width="0.9"/>
<text x="381.4" y="241.25" text-anchor="end" font-size="10.3" fill="#555">0.0</text>
<line x1="384.0" x2="387.2" y1="236.95" y2="236.95" stroke="#888" stroke-width="0.9"/>
<text x="381.4" y="254.00" text-anchor="end" font-size="10.3" fill="#555">-0.5</text>
<line x1="384.0" x2="387.2" y1="249.70" y2="249.70" stroke="#888" stroke-width="0.9"/>
<line x1="390.20" x2="390.20" y1="254.9" y2="258.5" stroke="#888" stroke-width="0.9"/>
<text transform="translate(390.20 268.6) scale(1.0 1)" text-anchor="middle" font-size="10.0" fill="#4d4d4d">0</text>
<line x1="408.33" x2="408.33" y1="254.9" y2="258.5" stroke="#888" stroke-width="0.9"/>
<text transform="translate(408.33 268.6) scale(1.0 1)" text-anchor="middle" font-size="10.0" fill="#4d4d4d">50</text>
<line x1="426.46" x2="426.46" y1="254.9" y2="258.5" stroke="#888" stroke-width="0.9"/>
<text transform="translate(426.46 268.6) scale(1.0 1)" text-anchor="middle" font-size="10.0" fill="#4d4d4d">100</text>
<line x1="444.59" x2="444.59" y1="254.9" y2="258.5" stroke="#888" stroke-width="0.9"/>
<text transform="translate(444.59 268.6) scale(1.0 1)" text-anchor="middle" font-size="10.0" fill="#4d4d4d">150</text>
<line x1="462.70" x2="462.70" y1="254.9" y2="258.5" stroke="#888" stroke-width="0.9"/>
<text transform="translate(462.70 268.6) scale(1.0 1)" text-anchor="middle" font-size="10.0" fill="#4d4d4d">0</text>
<line x1="480.83" x2="480.83" y1="254.9" y2="258.5" stroke="#888" stroke-width="0.9"/>
<text transform="translate(480.83 268.6) scale(1.0 1)" text-anchor="middle" font-size="10.0" fill="#4d4d4d">50</text>
<line x1="498.96" x2="498.96" y1="254.9" y2="258.5" stroke="#888" stroke-width="0.9"/>
<text transform="translate(498.96 268.6) scale(1.0 1)" text-anchor="middle" font-size="10.0" fill="#4d4d4d">100</text>
<line x1="517.09" x2="517.09" y1="254.9" y2="258.5" stroke="#888" stroke-width="0.9"/>
<text transform="translate(517.09 268.6) scale(1.0 1)" text-anchor="middle" font-size="10.0" fill="#4d4d4d">150</text>
<line x1="535.20" x2="535.20" y1="254.9" y2="258.5" stroke="#888" stroke-width="0.9"/>
<text transform="translate(535.20 268.6) scale(1.0 1)" text-anchor="middle" font-size="10.0" fill="#4d4d4d">0</text>
<line x1="553.33" x2="553.33" y1="254.9" y2="258.5" stroke="#888" stroke-width="0.9"/>
<text transform="translate(553.33 268.6) scale(1.0 1)" text-anchor="middle" font-size="10.0" fill="#4d4d4d">50</text>
<line x1="571.46" x2="571.46" y1="254.9" y2="258.5" stroke="#888" stroke-width="0.9"/>
<text transform="translate(571.46 268.6) scale(1.0 1)" text-anchor="middle" font-size="10.0" fill="#4d4d4d">100</text>
<line x1="589.59" x2="589.59" y1="254.9" y2="258.5" stroke="#888" stroke-width="0.9"/>
<text transform="translate(589.59 268.6) scale(1.0 1)" text-anchor="middle" font-size="10.0" fill="#4d4d4d">150</text>
<line x1="607.70" x2="607.70" y1="254.9" y2="258.5" stroke="#888" stroke-width="0.9"/>
<text transform="translate(607.70 268.6) scale(1.0 1)" text-anchor="middle" font-size="10.0" fill="#4d4d4d">0</text>
<line x1="625.83" x2="625.83" y1="254.9" y2="258.5" stroke="#888" stroke-width="0.9"/>
<text transform="translate(625.83 268.6) scale(1.0 1)" text-anchor="middle" font-size="10.0" fill="#4d4d4d">50</text>
<line x1="643.96" x2="643.96" y1="254.9" y2="258.5" stroke="#888" stroke-width="0.9"/>
<text transform="translate(643.96 268.6) scale(1.0 1)" text-anchor="middle" font-size="10.0" fill="#4d4d4d">100</text>
<line x1="662.09" x2="662.09" y1="254.9" y2="258.5" stroke="#888" stroke-width="0.9"/>
<text transform="translate(662.09 268.6) scale(1.0 1)" text-anchor="middle" font-size="10.0" fill="#4d4d4d">150</text>
<text transform="translate(509.0 285.9) scale(1.15 1)" font-size="14.3" fill="#111" stroke="#1c1c1c" stroke-width="0.2">Angle</text>
<text transform="translate(359.6 153.1) rotate(-90) scale(1.03 1)" font-size="15" fill="#111">MWP</text>
<path d="M389.60,70.20 C390.65,69.85 393.75,68.98 395.90,68.10 C398.05,67.22 400.30,66.13 402.50,64.90 C404.70,63.67 406.90,62.23 409.10,60.70 C411.30,59.17 413.37,57.35 415.70,55.70 C418.03,54.05 420.77,52.23 423.10,50.80 C425.43,49.37 427.50,48.37 429.70,47.10 C431.90,45.83 434.23,44.65 436.30,43.20 C438.37,41.75 439.82,40.72 442.10,38.40 C444.38,36.08 448.68,30.82 450.00,29.30" fill="none" stroke="#14984e" stroke-width="2.5" stroke-linecap="round" stroke-linejoin="round"/>
<circle cx="389.6" cy="70.2" r="1.85" fill="#111"/>
<circle cx="409.1" cy="61" r="1.85" fill="#111"/>
<circle cx="423.1" cy="50.3" r="1.85" fill="#111"/>
<circle cx="436.3" cy="44.2" r="1.85" fill="#111"/>
<circle cx="450" cy="29.3" r="1.85" fill="#111"/>
<path d="M462.10,74.70 C462.65,73.38 464.30,69.22 465.40,66.80 C466.50,64.38 467.45,62.32 468.70,60.20 C469.95,58.08 471.52,56.03 472.90,54.10 C474.28,52.17 475.55,50.07 477.00,48.60 C478.45,47.13 480.23,45.98 481.60,45.30 C482.97,44.62 483.77,44.42 485.20,44.50 C486.63,44.58 488.55,45.25 490.20,45.80 C491.85,46.35 493.18,47.25 495.10,47.80 C497.02,48.35 499.42,48.60 501.70,49.10 C503.98,49.60 506.45,49.92 508.80,50.80 C511.15,51.68 513.48,52.92 515.80,54.40 C518.12,55.88 521.55,58.82 522.70,59.70" fill="none" stroke="#852088" stroke-width="2.5" stroke-linecap="round" stroke-linejoin="round"/>
<circle cx="462.1" cy="74.7" r="1.85" fill="#111"/>
<circle cx="481.6" cy="45.3" r="1.85" fill="#111"/>
<circle cx="495.1" cy="48.1" r="1.85" fill="#111"/>
<circle cx="508.8" cy="50.8" r="1.85" fill="#111"/>
<circle cx="522.7" cy="59.7" r="1.85" fill="#111"/>
<path d="M535.00,65.00 C535.82,65.43 538.12,66.97 539.90,67.60 C541.68,68.23 543.92,68.73 545.70,68.80 C547.48,68.87 549.17,68.50 550.60,68.00 C552.03,67.50 552.92,66.90 554.30,65.80 C555.68,64.70 557.45,63.02 558.90,61.40 C560.35,59.78 561.48,57.83 563.00,56.10 C564.52,54.37 566.07,52.38 568.00,51.00 C569.93,49.62 572.35,48.55 574.60,47.80 C576.85,47.05 579.30,46.80 581.50,46.50 C583.70,46.20 585.57,45.92 587.80,46.00 C590.03,46.08 593.72,46.83 594.90,47.00" fill="none" stroke="#1a78b0" stroke-width="2.5" stroke-linecap="round" stroke-linejoin="round"/>
<circle cx="535" cy="64.7" r="1.85" fill="#111"/>
<circle cx="554.3" cy="65.8" r="1.85" fill="#111"/>
<circle cx="568" cy="50.6" r="1.85" fill="#111"/>
<circle cx="581.5" cy="47.3" r="1.85" fill="#111"/>
<circle cx="594.9" cy="47" r="1.85" fill="#111"/>
<path d="M607.30,63.10 C608.37,62.80 611.67,61.83 613.70,61.30 C615.73,60.77 617.37,60.28 619.50,59.90 C621.63,59.52 624.17,59.20 626.50,59.00 C628.83,58.80 631.20,58.75 633.50,58.70 C635.80,58.65 637.95,58.50 640.30,58.70 C642.65,58.90 645.32,59.58 647.60,59.90 C649.88,60.22 651.87,60.48 654.00,60.60 C656.13,60.72 658.17,60.63 660.40,60.60 C662.63,60.57 666.23,60.43 667.40,60.40" fill="none" stroke="#e57aa9" stroke-width="2.5" stroke-linecap="round" stroke-linejoin="round"/>
<circle cx="607.3" cy="63.4" r="1.85" fill="#111"/>
<circle cx="626.5" cy="59.3" r="1.85" fill="#111"/>
<circle cx="640.3" cy="58.3" r="1.85" fill="#111"/>
<circle cx="654" cy="61" r="1.85" fill="#111"/>
<circle cx="667.4" cy="60.4" r="1.85" fill="#111"/>
<path d="M389.70,163.60 C390.80,163.20 394.00,162.30 396.30,161.20 C398.60,160.10 401.37,158.58 403.50,157.00 C405.63,155.42 407.22,154.03 409.10,151.70 C410.98,149.37 413.15,145.55 414.80,143.00 C416.45,140.45 417.62,138.35 419.00,136.40 C420.38,134.45 421.38,132.77 423.10,131.30 C424.82,129.83 427.07,128.90 429.30,127.60 C431.53,126.30 434.10,125.22 436.50,123.50 C438.90,121.78 441.40,119.20 443.70,117.30 C446.00,115.40 449.20,112.97 450.30,112.10" fill="none" stroke="#14984e" stroke-width="2.5" stroke-linecap="round" stroke-linejoin="round"/>
<circle cx="389.7" cy="163.6" r="1.85" fill="#111"/>
<circle cx="409.1" cy="151.3" r="1.85" fill="#111"/>
<circle cx="423.1" cy="131.1" r="1.85" fill="#111"/>
<circle cx="436.5" cy="124.5" r="1.85" fill="#111"/>
<circle cx="450.3" cy="111.7" r="1.85" fill="#111"/>
<path d="M462.50,154.30 C463.12,153.05 464.88,148.97 466.20,146.80 C467.52,144.63 469.02,142.83 470.40,141.30 C471.78,139.77 473.13,138.68 474.50,137.60 C475.87,136.52 477.42,135.45 478.60,134.80 C479.78,134.15 480.45,133.88 481.60,133.70 C482.75,133.52 484.17,133.28 485.50,133.70 C486.83,134.12 488.00,135.28 489.60,136.20 C491.20,137.12 493.03,138.23 495.10,139.20 C497.17,140.17 499.72,141.08 502.00,142.00 C504.28,142.92 506.52,143.88 508.80,144.70 C511.08,145.52 513.40,146.13 515.70,146.90 C518.00,147.67 521.45,148.90 522.60,149.30" fill="none" stroke="#852088" stroke-width="2.5" stroke-linecap="round" stroke-linejoin="round"/>
<circle cx="462.5" cy="154.8" r="1.85" fill="#111"/>
<circle cx="481.6" cy="133.7" r="1.85" fill="#111"/>
<circle cx="495.1" cy="139.6" r="1.85" fill="#111"/>
<circle cx="508.8" cy="144.7" r="1.85" fill="#111"/>
<circle cx="522.6" cy="149.3" r="1.85" fill="#111"/>
<path d="M534.80,150.00 C535.60,150.92 538.12,154.02 539.60,155.50 C541.08,156.98 542.10,157.87 543.70,158.90 C545.30,159.93 547.48,161.08 549.20,161.70 C550.92,162.32 552.17,162.72 554.00,162.60 C555.83,162.48 557.90,161.92 560.20,161.00 C562.50,160.08 565.28,158.67 567.80,157.10 C570.32,155.53 573.08,153.25 575.30,151.60 C577.52,149.95 579.03,148.85 581.10,147.20 C583.17,145.55 585.42,143.72 587.70,141.70 C589.98,139.68 593.62,136.20 594.80,135.10" fill="none" stroke="#1a78b0" stroke-width="2.5" stroke-linecap="round" stroke-linejoin="round"/>
<circle cx="534.8" cy="149.7" r="1.85" fill="#111"/>
<circle cx="554" cy="162.8" r="1.85" fill="#111"/>
<circle cx="567.8" cy="156.8" r="1.85" fill="#111"/>
<circle cx="581.1" cy="146.5" r="1.85" fill="#111"/>
<circle cx="594.8" cy="134.9" r="1.85" fill="#111"/>
<path d="M607.30,149.30 C608.75,149.25 612.80,149.13 616.00,149.00 C619.20,148.87 623.58,148.78 626.50,148.50 C629.42,148.22 631.20,147.60 633.50,147.30 C635.80,147.00 637.95,146.70 640.30,146.70 C642.65,146.70 645.32,147.07 647.60,147.30 C649.88,147.53 651.87,147.98 654.00,148.10 C656.13,148.22 658.17,148.05 660.40,148.00 C662.63,147.95 666.23,147.83 667.40,147.80" fill="none" stroke="#e57aa9" stroke-width="2.5" stroke-linecap="round" stroke-linejoin="round"/>
<circle cx="607.3" cy="148.9" r="1.85" fill="#111"/>
<circle cx="626.5" cy="148.5" r="1.85" fill="#111"/>
<circle cx="640.3" cy="146.1" r="1.85" fill="#111"/>
<circle cx="654" cy="148.5" r="1.85" fill="#111"/>
<circle cx="667.4" cy="147.8" r="1.85" fill="#111"/>
<path d="M389.80,239.30 C391.35,238.98 395.90,238.07 399.10,237.40 C402.30,236.73 406.15,235.98 409.00,235.30 C411.85,234.62 413.88,233.87 416.20,233.30 C418.52,232.73 420.72,232.43 422.90,231.90 C425.08,231.37 427.02,230.68 429.30,230.10 C431.58,229.52 434.25,228.80 436.60,228.40 C438.95,228.00 441.17,227.92 443.40,227.70 C445.63,227.48 448.90,227.20 450.00,227.10" fill="none" stroke="#14984e" stroke-width="2.5" stroke-linecap="round" stroke-linejoin="round"/>
<circle cx="389.8" cy="239.3" r="1.85" fill="#111"/>
<circle cx="409" cy="235.3" r="1.85" fill="#111"/>
<circle cx="422.9" cy="231.9" r="1.85" fill="#111"/>
<circle cx="436.6" cy="228.1" r="1.85" fill="#111"/>
<circle cx="450" cy="227.1" r="1.85" fill="#111"/>
<path d="M462.30,240.20 C462.95,239.50 464.68,237.47 466.20,236.00 C467.72,234.53 469.68,232.68 471.40,231.40 C473.12,230.12 474.78,229.02 476.50,228.30 C478.22,227.58 479.98,227.18 481.70,227.10 C483.42,227.02 485.08,227.40 486.80,227.80 C488.52,228.20 490.62,229.07 492.00,229.50 C493.38,229.93 493.55,230.12 495.10,230.40 C496.65,230.68 499.07,230.87 501.30,231.20 C503.53,231.53 506.27,231.52 508.50,232.40 C510.73,233.28 512.35,234.73 514.70,236.50 C517.05,238.27 521.28,241.92 522.60,243.00" fill="none" stroke="#852088" stroke-width="2.5" stroke-linecap="round" stroke-linejoin="round"/>
<circle cx="462.3" cy="240.5" r="1.85" fill="#111"/>
<circle cx="481.7" cy="227.1" r="1.85" fill="#111"/>
<circle cx="495.1" cy="231.9" r="1.85" fill="#111"/>
<circle cx="508.5" cy="230.9" r="1.85" fill="#111"/>
<circle cx="522.6" cy="243.2" r="1.85" fill="#111"/>
<path d="M534.60,239.40 C535.55,238.42 538.32,235.22 540.30,233.50 C542.28,231.78 544.18,230.40 546.50,229.10 C548.82,227.80 551.80,226.47 554.20,225.70 C556.60,224.93 558.62,224.70 560.90,224.50 C563.18,224.30 565.67,224.38 567.90,224.50 C570.13,224.62 572.07,224.73 574.30,225.20 C576.53,225.67 579.07,226.10 581.30,227.30 C583.53,228.50 585.47,230.08 587.70,232.40 C589.93,234.72 593.53,239.73 594.70,241.20" fill="none" stroke="#1a78b0" stroke-width="2.5" stroke-linecap="round" stroke-linejoin="round"/>
<circle cx="534.6" cy="239.6" r="1.85" fill="#111"/>
<circle cx="554.2" cy="225.4" r="1.85" fill="#111"/>
<circle cx="567.9" cy="225.2" r="1.85" fill="#111"/>
<circle cx="581.3" cy="227.1" r="1.85" fill="#111"/>
<circle cx="594.7" cy="241.2" r="1.85" fill="#111"/>
<path d="M607.50,237.90 C608.27,238.10 610.33,238.82 612.10,239.10 C613.87,239.38 615.67,239.68 618.10,239.60 C620.53,239.52 624.35,239.18 626.70,238.60 C629.05,238.02 629.93,236.88 632.20,236.10 C634.47,235.32 637.78,234.27 640.30,233.90 C642.82,233.53 645.03,233.73 647.30,233.90 C649.57,234.07 651.72,234.53 653.90,234.90 C656.08,235.27 658.13,235.73 660.40,236.10 C662.67,236.47 666.32,236.93 667.50,237.10" fill="none" stroke="#e57aa9" stroke-width="2.5" stroke-linecap="round" stroke-linejoin="round"/>
<circle cx="607.5" cy="237.6" r="1.85" fill="#111"/>
<circle cx="626.7" cy="237.9" r="1.85" fill="#111"/>
<circle cx="640.3" cy="233.3" r="1.85" fill="#111"/>
<circle cx="653.9" cy="235.1" r="1.85" fill="#111"/>
<circle cx="667.5" cy="236.9" r="1.85" fill="#111"/>
</svg>
</body></html>
